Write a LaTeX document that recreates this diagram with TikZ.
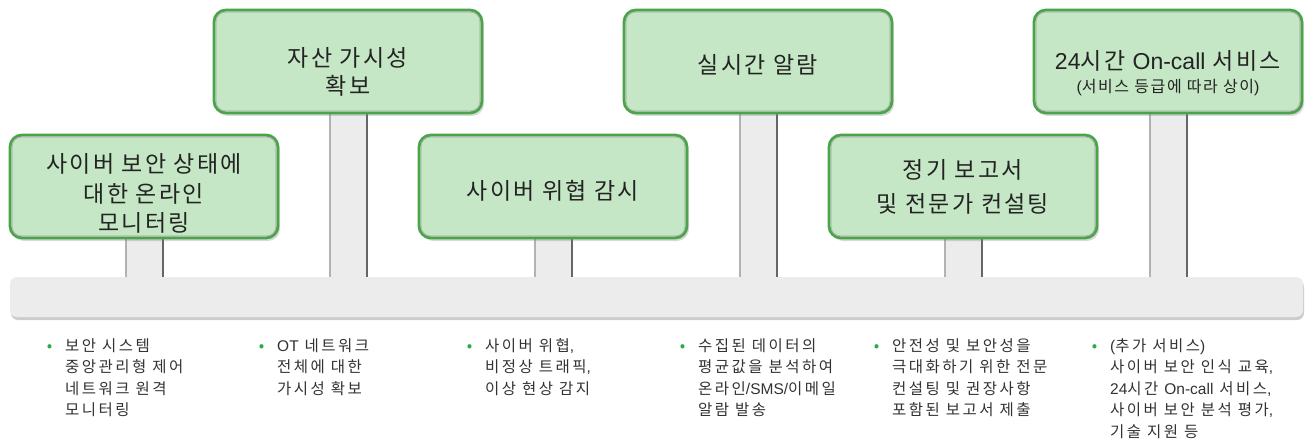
\documentclass[tikz,border=0pt]{standalone}
\usepackage{fontspec}
\setmainfont{Noto Sans CJK KR}
\newfontfamily\cardfont[LetterSpace=10]{Noto Sans CJK KR}
\newfontfamily\bodyfont[LetterSpace=16]{Noto Sans CJK KR}
\newfontfamily\latfont{Liberation Sans}
\usepackage{tikz}
\usetikzlibrary{calc,shadows}

\definecolor{cardfill}{RGB}{197,231,197}
\definecolor{cardline}{RGB}{74,164,74}
\definecolor{cardtext}{RGB}{35,35,35}
\definecolor{barfill}{RGB}{236,236,236}
\definecolor{bodytext}{RGB}{50,50,50}
\definecolor{dotgreen}{RGB}{40,170,70}

\pgfdeclarelayer{background}
\pgfsetlayers{background,main}

\newcommand{\la}[1]{{\latfont #1}}
\newcommand{\dn}[1]{\rule{0pt}{#1pt}}
\newcommand{\dotmark}{\rule{0pt}{14pt}\llap{\textcolor{dotgreen}{\fontsize{16}{16}\selectfont •}\hspace{13pt}}}

\begin{document}
\begin{tikzpicture}[x=1pt,y=-1pt,
    card/.style={rectangle,rounded corners=12pt,draw=cardline,line width=2.8pt,fill=cardfill,
        minimum width=268pt,minimum height=103pt,inner ysep=0pt,align=center,text=cardtext,
        font=\cardfont\fontsize{23}{29.5}\selectfont,
        drop shadow={opacity=0.3,shadow xshift=2pt,shadow yshift=-3pt}},
    bevel/.style={draw=black!35,line width=1.2pt,rounded corners=9pt,opacity=0.6},
    bar/.style={rectangle,rounded corners=7pt,fill=barfill,minimum width=1293pt,minimum height=40pt,
        drop shadow={opacity=0.4,shadow xshift=1pt,shadow yshift=-3pt}},
    stem/.style={fill=barfill}]
\useasboundingbox (0,0) rectangle (1310,441);

% top and bottom row cards
\node[card] (b1) at (144,186.5) {\dn{33}사이버 보안 상태에\\대한 온라인\\모니터링};
\node[card] (b2) at (348,61.5) {\dn{40}자산 가시성\\[-1.5pt]확보};
\node[card] (b3) at (553,186.5) {\dn{28}사이버 위협 감시};
\node[card] (b4) at (758,61.5) {\dn{26}실시간 알람};
\node[card] (b5) at (963,186.5) {\dn{20}정기 보고서\\[5pt]및 전문가 컨설팅};
\node[card] (b6) at (1168,61.5) {\dn{42}\la{24}시간 \la{On-call} 서비스\\[-7pt]{\fontsize{16}{18}\selectfont \la{(}서비스 등급에 따라 상이\la{)}}};
\foreach \n in {b1,b2,b3,b4,b5,b6}
    \draw[bevel] ($(\n.north west)+(3.5,3.5)$) rectangle ($(\n.south east)+(-3.5,-3.5)$);

\node[bar] (bar) at (656.5,297) {};

% stems from cards down to the bar
\begin{pgfonlayer}{background}
\foreach \n in {b1,b2,b3,b4,b5,b6} {
    \fill[stem] ($(\n.south)+(-19,0)$) rectangle ($(\n.south |- bar.north)+(19,2)$);
    \draw[black!30,line width=1.5pt] ($(\n.south)+(-18,0)$) -- ($(\n.south |- bar.north)+(-18,0)$);
    \draw[black!60,line width=2pt] ($(\n.south)+(19,0)$) -- ($(\n.south |- bar.north)+(19,0)$);
}
\end{pgfonlayer}

% descriptions under the bar
\begin{scope}[every node/.style={anchor=north west,align=left,inner sep=0pt,text=bodytext,
        font=\bodyfont\fontsize{15.5}{21.5}\selectfont}]
    \node (d1) at (65,337) {\dotmark 보안 시스템\\중앙관리형 제어\\네트워크 원격\\모니터링};
    \node (d2) at (277,337) {\dotmark \la{OT} 네트워크\\전체에 대한\\가시성 확보};
    \node (d3) at (485,337) {\dotmark 사이버 위협\la{,}\\비정상 트래픽\la{,}\\이상 현상 감지};
    \node (d4) at (698,337) {\dotmark 수집된 데이터의\\평균값을 분석하여\\온라인\la{/SMS/}이메일\\알람 발송};
    \node (d5) at (892,337) {\dotmark 안전성 및 보안성을\\극대화하기 위한 전문\\컨설팅 및 권장사항\\포함된 보고서 제출};
    \node (d6) at (1110,337) {\dotmark \la{(}추가 서비스\la{)}\\사이버 보안 인식 교육\la{,}\\\la{24}시간 \la{On-call} 서비스\la{,}\\사이버 보안 분석 평가\la{,}\\기술 지원 등};
\end{scope}
\end{tikzpicture}
\end{document}
